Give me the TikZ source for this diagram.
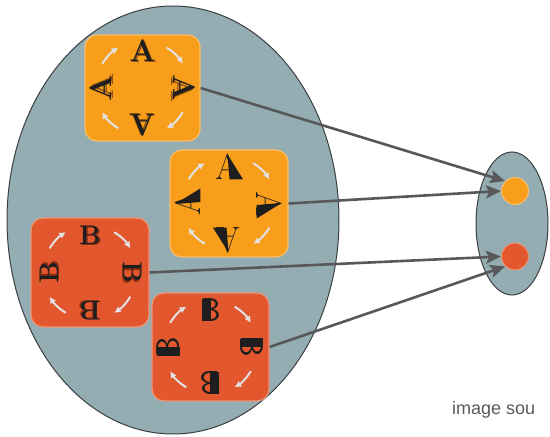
\documentclass[tikz,border=0pt]{standalone}
\usepackage{fontspec}
\newfontfamily\captionfont{Liberation Sans}
\usetikzlibrary{shapes.geometric,arrows.meta}

\definecolor{slate}{HTML}{94ADB2}
\definecolor{slateedge}{HTML}{3A3F41}
\definecolor{amber}{HTML}{F89E1B}
\definecolor{amberedge}{HTML}{F9BE6A}
\definecolor{brick}{HTML}{E2572D}
\definecolor{brickedge}{HTML}{EC9779}
\definecolor{ink}{HTML}{1E1E1E}
\definecolor{wire}{HTML}{58585A}
\definecolor{amshadow}{HTML}{8A5210}
\definecolor{brshadow}{HTML}{8C2E14}
\definecolor{loopgray}{HTML}{E2E2E2}
\definecolor{captiongray}{HTML}{595959}

% letter with an offset coloured shadow behind it
\newcommand\withshadow[2]{\rlap{\kern1.4pt\raisebox{-1.4pt}{\color{#1}#2}}#2}

% serif A with brown shadow: name, x, y, angle
\newcommand\serifA[4]{%
  \node[glyph,font=\fontsize{31}{31}\selectfont\bfseries,rotate=#4] (#1) at (#2,#3) {\withshadow{amshadow}{A}};}
% serif B with dark red shadow
\newcommand\serifB[4]{%
  \node[glyph,font=\fontsize{27}{27}\selectfont\bfseries,rotate=#4] (#1) at (#2,#3) {\withshadow{brshadow}{B}};}
% A with a heavy wedge on its right leg
\newcommand\wedgeA[4]{%
  \begin{scope}[shift={(#2,#3)},rotate=#4]
    \node[glyph,font=\fontsize{36}{36}\selectfont,transform shape] (#1) at (0,0) {A};
    \fill[ink] (-0.5,12.5) -- (15,-12.3) -- (1.5,-12.3) -- cycle;
  \end{scope}}
% sans B with a solid left half
\newcommand\halfB[4]{%
  \begin{scope}[shift={(#2,#3)},rotate=#4]
    \node[glyph,font=\fontsize{33}{33}\selectfont\sffamily,transform shape] (#1) at (0,0) {B};
    \fill[ink] (-8.7,-11.45) rectangle (0.4,11.45);
  \end{scope}}
% four clockwise arrows around a box centre
\newcommand\turnarrows[2]{%
  \begin{scope}[shift={(#1,#2)}]
    \foreach \c in {135,45,-45,-135}
      \draw[turn] (\c+14:47) arc[start angle=\c+14, end angle=\c-14, radius=47];
  \end{scope}}

\begin{document}
\begin{tikzpicture}[x=1pt,y=1pt,
  glyph/.style={inner sep=0pt,text=ink},
  tile/.style={rounded corners=12pt,line width=1.2pt,minimum width=117pt,minimum height=107pt,inner sep=0pt},
  orangetile/.style={tile,fill=amber,draw=amberedge},
  redtile/.style={tile,fill=brick,draw=brickedge},
  blob/.style={ellipse,fill=slate,draw=slateedge,line width=1pt,inner sep=0pt},
  dot/.style={circle,minimum size=27pt,inner sep=0pt,line width=1pt},
  turn/.style={draw=loopgray,line width=2pt,-{Latex[length=6.5pt,width=7pt]}},
  conn/.style={draw=wire,line width=2.6pt,-{Stealth[length=15pt,width=13pt,inset=3pt]}}]
\useasboundingbox (0,0) rectangle (550,437);

% the two sets
\node[blob,minimum width=332pt,minimum height=428pt] (big) at (173,217) {};
\node[blob,minimum width=72pt,minimum height=143pt] (small) at (512,213.5) {};

% image points
\node[dot,fill=amber,draw=amberedge] (od) at (515,246) {};
\node[dot,fill=brick,draw=brickedge] (rd) at (515,180.5) {};

% tiles
\node[orangetile,minimum width=115pt,minimum height=106pt] (b1) at (142.5,349) {};
\node[orangetile,minimum width=118pt,minimum height=107pt] (b2) at (229,233.5) {};
\node[redtile,minimum width=118pt,minimum height=109pt] (b3) at (90,164.5) {};
\node[redtile,minimum width=117pt,minimum height=108pt] (b4) at (210.5,90) {};

% rotation arrows
\turnarrows{142.5}{349}
\turnarrows{229}{233.5}
\turnarrows{90}{164.5}
\turnarrows{210.5}{90}

% letters of tile 1
\serifA{a1t}{142.5}{386}{0}
\serifA{a1r}{183.5}{349}{-90}
\serifA{a1b}{142.5}{312}{180}
\serifA{a1l}{101.5}{349}{90}
% letters of tile 2
\wedgeA{a2t}{228}{270}{0}
\wedgeA{a2r}{269}{233.5}{-90}
\wedgeA{a2b}{228}{197}{180}
\wedgeA{a2l}{188}{233.5}{90}
% letters of tile 3
\serifB{b3t}{90}{201}{0}
\serifB{b3r}{132}{164.5}{-90}
\serifB{b3b}{90}{127}{180}
\serifB{b3l}{50}{164.5}{90}
% letters of tile 4
\halfB{b4t}{210.5}{127}{0}
\halfB{b4r}{252}{90}{-90}
\halfB{b4b}{210.5}{54}{180}
\halfB{b4l}{168.5}{90}{90}

% mapping arrows
\draw[conn] (b1.east) -- (od.135);
\draw[conn] (b2.east) -- (od.180);
\draw[conn] (b3.east) -- (rd.180);
\draw[conn] (b4.east) -- (rd.225);

\node[anchor=base west,inner sep=0pt,text=captiongray,font=\captionfont\fontsize{18}{18}\selectfont] (credit) at (452,22) {image sou};
\end{tikzpicture}
\end{document}
